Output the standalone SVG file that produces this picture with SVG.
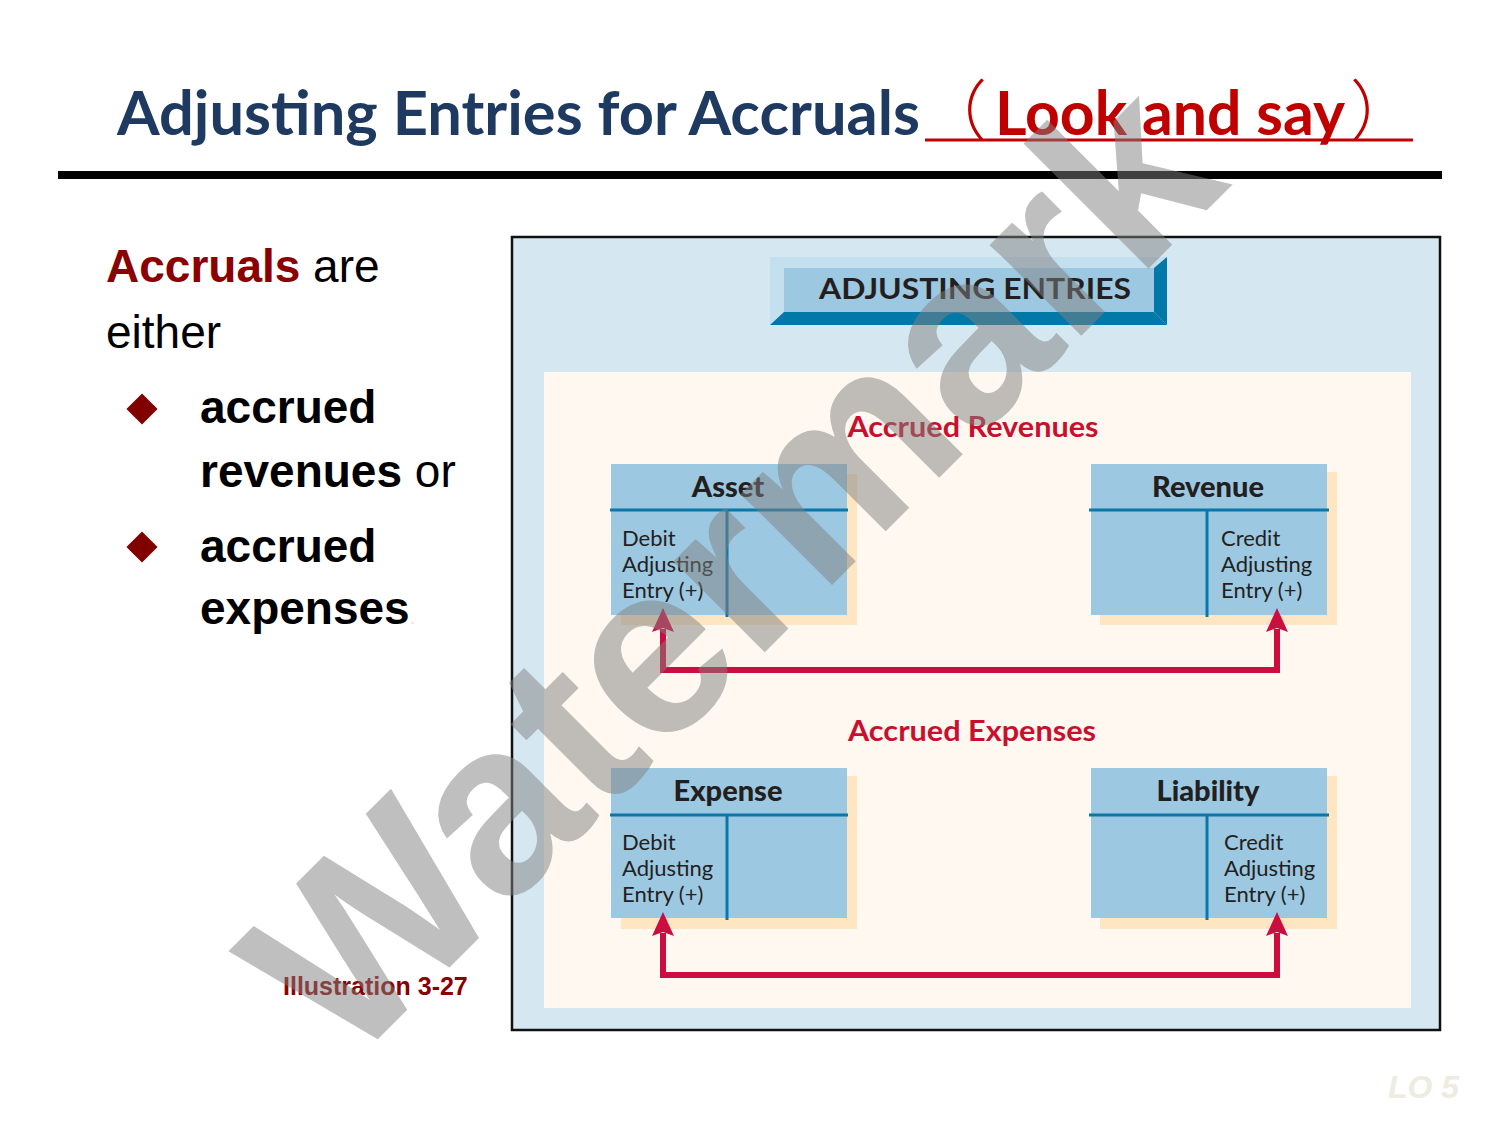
<svg xmlns="http://www.w3.org/2000/svg" width="1500" height="1125" viewBox="0 0 1500 1125">
<defs>
<style>
.title{font-family:Lato,"Noto Sans CJK SC",sans-serif;font-weight:bold;font-size:62px}
.paren{font-family:"Noto Sans CJK SC",sans-serif;font-weight:300;font-size:66px}
.left{font-family:"Liberation Sans",Arial,sans-serif;font-size:46px;fill:#000}
.b{font-weight:bold}
.acct{fill:#9DC8E1}
.shadow{fill:#FDE6C1}
.rule{stroke:#0A77A8;stroke-width:3;fill:none}
.hd{font-family:Lato,"Open Sans",sans-serif;font-weight:900;font-size:29px;fill:#231F20;text-anchor:middle}
.body{font-family:Lato,"Open Sans",sans-serif;font-size:22px;fill:#231F20}
.sec{font-family:Lato,"Open Sans",sans-serif;font-weight:bold;font-size:28px;fill:#C8102E;text-anchor:middle}
.conn{fill:none;stroke:#CC0D3F;stroke-width:6}
</style>
<marker id="ah" markerUnits="userSpaceOnUse" viewBox="0 0 24 22" markerWidth="24" markerHeight="22" refX="3" refY="11" orient="auto-start-reverse">
<path d="M0,0 L24,11 L0,22 L4,11 z" fill="#CC0D3F"/>
</marker>
</defs>
<rect width="1500" height="1125" fill="#fff"/>

<g id="title">
<text class="title" x="117" y="135" fill="#1F3A60" textLength="803" lengthAdjust="spacingAndGlyphs">Adjusting Entries for Accruals</text>
<text class="title" y="135" fill="#C00000"><tspan class="paren" x="921">（</tspan><tspan x="995" textLength="350" lengthAdjust="spacingAndGlyphs">Look and say</tspan><tspan class="paren" x="1350">）</tspan></text>
<line x1="925" y1="140" x2="1413" y2="140" stroke="#C00000" stroke-width="3"/>
<line x1="58" y1="175" x2="1442" y2="175" stroke="#000" stroke-width="8"/>
</g>

<g id="left-text">
<text class="left" x="106" y="282" font-size="47"><tspan class="b" fill="#8B0000">Accruals</tspan> are</text>
<text class="left" x="106" y="348" font-size="47">either</text>
<rect x="131" y="398" width="22" height="22" fill="#800000" transform="rotate(45 142 409)"/>
<text class="left b" x="200" y="423">accrued</text>
<text class="left" x="200" y="487"><tspan class="b">revenues</tspan> or</text>
<rect x="131" y="536" width="22" height="22" fill="#800000" transform="rotate(45 142 547)"/>
<text class="left b" x="200" y="562">accrued</text>
<text class="left" x="200" y="624"><tspan class="b">expenses</tspan><tspan fill="#E8E4DA" font-size="20">.</tspan></text>
</g>

<g id="frame">
<rect x="512" y="237" width="928" height="793" fill="#D5E8F2" stroke="#111" stroke-width="2.5"/>
<rect x="544" y="372" width="867" height="636" fill="#FEF8F0"/>
</g>

<g id="banner">
<rect x="770" y="257" width="397" height="68" fill="#C4DFEE"/>
<polygon points="770,325 1167,325 1154,312 784,312" fill="#0078A8"/>
<polygon points="1167,257 1167,325 1154,312 1154,268" fill="#0078A8"/>
<rect x="784" y="268" width="370" height="44" fill="#9DC8E1"/>
<text x="975" y="299" font-family="Lato,'Open Sans',sans-serif" font-weight="bold" font-size="28" fill="#231F20" text-anchor="middle" textLength="312" lengthAdjust="spacingAndGlyphs">ADJUSTING ENTRIES</text>
</g>

<text class="sec" x="973" y="437" textLength="251" lengthAdjust="spacingAndGlyphs">Accrued Revenues</text>
<text class="sec" x="972" y="741" textLength="248" lengthAdjust="spacingAndGlyphs">Accrued Expenses</text>

<g id="asset">
<rect class="shadow" x="621" y="474" width="236" height="151"/>
<rect class="acct" x="611" y="464" width="236" height="151"/>
<line class="rule" x1="610" y1="510" x2="848" y2="510"/>
<line class="rule" x1="727" y1="510" x2="727" y2="617"/>
<text class="hd" x="728" y="497">Asset</text>
<text class="body" x="622" y="546">Debit</text>
<text class="body" x="622" y="572">Adjusting</text>
<text class="body" x="622" y="598">Entry (+)</text>
</g>

<g id="revenue">
<rect class="shadow" x="1100" y="472" width="237" height="153"/>
<rect class="acct" x="1091" y="464" width="236" height="151"/>
<line class="rule" x1="1089" y1="510" x2="1329" y2="510"/>
<line class="rule" x1="1207" y1="510" x2="1207" y2="617"/>
<text class="hd" x="1208" y="497">Revenue</text>
<text class="body" x="1221" y="546">Credit</text>
<text class="body" x="1221" y="572">Adjusting</text>
<text class="body" x="1221" y="598">Entry (+)</text>
</g>

<g id="expense">
<rect class="shadow" x="621" y="776" width="236" height="153"/>
<rect class="acct" x="611" y="768" width="236" height="150"/>
<line class="rule" x1="610" y1="815" x2="848" y2="815"/>
<line class="rule" x1="727" y1="815" x2="727" y2="920"/>
<text class="hd" x="728" y="801">Expense</text>
<text class="body" x="622" y="850">Debit</text>
<text class="body" x="622" y="876">Adjusting</text>
<text class="body" x="622" y="902">Entry (+)</text>
</g>

<g id="liability">
<rect class="shadow" x="1100" y="776" width="237" height="153"/>
<rect class="acct" x="1091" y="768" width="236" height="150"/>
<line class="rule" x1="1089" y1="815" x2="1329" y2="815"/>
<line class="rule" x1="1207" y1="815" x2="1207" y2="920"/>
<text class="hd" x="1208" y="801">Liability</text>
<text class="body" x="1224" y="850">Credit</text>
<text class="body" x="1224" y="876">Adjusting</text>
<text class="body" x="1224" y="902">Entry (+)</text>
</g>

<g id="connectors">
<path class="conn" d="M663,629 V670 H1277 V629" marker-start="url(#ah)" marker-end="url(#ah)"/>
<path class="conn" d="M663,933 V975 H1277 V933" marker-start="url(#ah)" marker-end="url(#ah)"/>
</g>

<text x="283" y="995" font-family="'Liberation Sans',Arial,sans-serif" font-weight="bold" font-size="25" fill="#8B0000">Illustration 3-27</text>
<text x="1388" y="1098" font-family="'Liberation Sans',Arial,sans-serif" font-weight="bold" font-style="italic" font-size="32" fill="#EEEBE0">LO 5</text>

<text x="347" y="1070" transform="rotate(-45 347 1070)" font-family="'Liberation Sans',Arial,sans-serif" font-weight="bold" font-size="244" fill="#808080" fill-opacity="0.5">Watermark</text>
</svg>
